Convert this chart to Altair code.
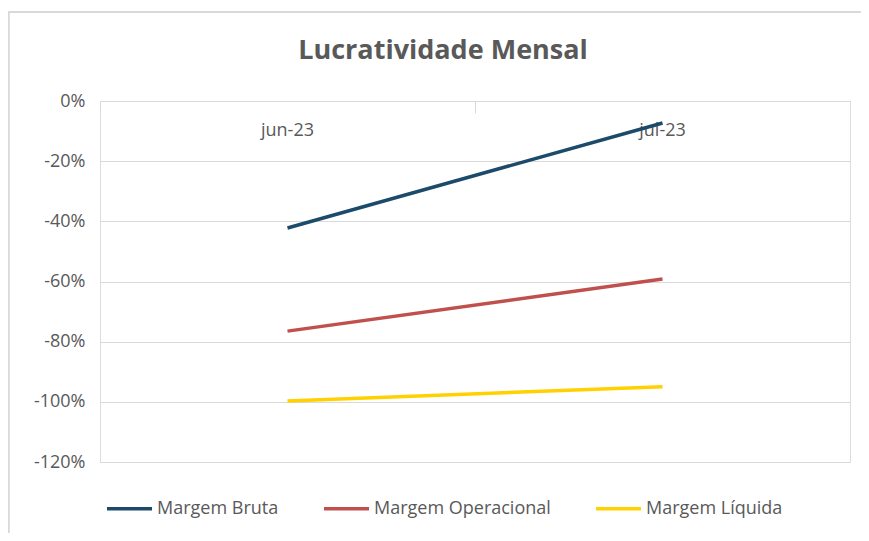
import altair as alt
import pandas as pd

categories = ["jun-23", "jul-23"]
series = ["Margem Bruta", "Margem Operacional", "Margem Líquida"]
margem_bruta = [-0.422, -0.073]
margem_operacional = [-0.765, -0.592]
margem_liquida = [-0.997, -0.950]
colors = ["#1b4a6b", "#c0504d", "#ffd100"]
y_ticks = [0, -0.2, -0.4, -0.6, -0.8, -1.0, -1.2]
title_text = "Lucratividade Mensal"

rows = []
for s, vals in zip(series, [margem_bruta, margem_operacional, margem_liquida]):
    for c, v in zip(categories, vals):
        rows.append({"mes": c, "serie": s, "valor": v})
df = pd.DataFrame(rows)

W, H = 750, 361
FONT = "Open Sans"
GRAY = "#595959"
GRID = "#d9d9d9"
FS = 18

lines = alt.Chart(df).mark_line(strokeWidth=3.5).encode(
    x=alt.X(
        "mes:N",
        sort=categories,
        scale=alt.Scale(type="band", paddingInner=0, paddingOuter=0),
        axis=alt.Axis(
            orient="bottom", offset=-H, title=None, labelAngle=0,
            domainColor=GRID, tickColor=GRID, tickSize=12, bandPosition=0,
            labelPadding=8, grid=False,
            labelFontSize=FS, labelColor=GRAY, labelFont=FONT,
        ),
    ),
    y=alt.Y(
        "valor:Q",
        scale=alt.Scale(domain=[-1.2, 0], nice=False, zero=False),
        axis=alt.Axis(
            values=y_ticks, title=None, domain=False, ticks=False,
            gridColor=GRID, gridWidth=1, labelPadding=15,
            labelFontSize=FS, labelColor=GRAY, labelFont=FONT,
            labelExpr="(datum.value < -0.001 ? '-' : '') + format(abs(datum.value) * 100, '.0f') + '%'",
        ),
    ),
    color=alt.Color(
        "serie:N",
        sort=series,
        scale=alt.Scale(domain=series, range=colors),
        legend=alt.Legend(
            orient="none", legendX=5, legendY=383, direction="horizontal",
            title=None, symbolType="stroke", symbolSize=2025,
            symbolStrokeWidth=3.5, labelFontSize=FS, labelColor=GRAY,
            labelFont=FONT, columnPadding=38, labelOffset=3, labelLimit=400,
        ),
    ),
)

frame_top = alt.Chart(df).mark_rule(color=GRID, strokeWidth=1.5).encode(
    x=alt.value(-91.5), x2=alt.value(900), y=alt.value(-89)
)
frame_left = alt.Chart(df).mark_rule(color=GRID, strokeWidth=1.5).encode(
    x=alt.value(-91.5), y=alt.value(-89), y2=alt.value(600)
)

chart = alt.layer(frame_top, frame_left, lines).properties(
    width=W, height=H,
    title=alt.TitleParams(
        title_text, fontSize=27, fontWeight="bold", color=GRAY, font=FONT,
        anchor="middle", dx=-32, offset=-54,
    ),
    padding={"left": 92, "top": 93, "right": 11, "bottom": 71},
    autosize=alt.AutoSizeParams(type="none"),
).configure_view(stroke=None).configure(background="white")

chart.save("out.html", embed_options={"renderer": "svg", "actions": False})
